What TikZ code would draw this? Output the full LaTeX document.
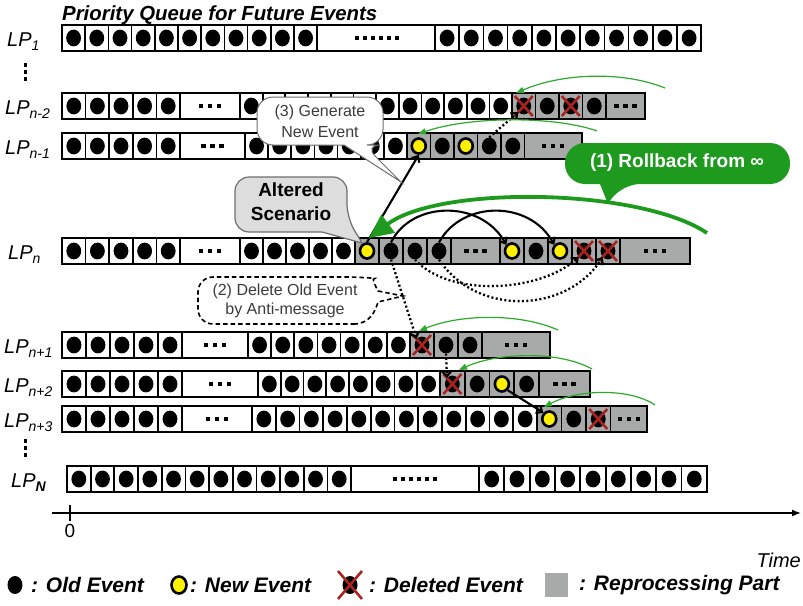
\documentclass[tikz,border=0pt]{standalone}
\usepackage{fontspec}
\setmainfont{Liberation Sans}
\usetikzlibrary{arrows.meta,shapes.geometric}
\definecolor{repgray}{RGB}{168,170,170}
\definecolor{evyellow}{RGB}{255,240,0}
\definecolor{xred}{RGB}{170,35,35}
\definecolor{rbgreen}{RGB}{30,155,30}
\definecolor{thingreen}{RGB}{45,170,45}
\definecolor{altfill}{RGB}{221,221,221}
\definecolor{calledge}{RGB}{110,110,110}
\definecolor{calltext}{RGB}{60,60,60}

\newcommand\evrow[5]{% #1 y, #2 x0, #3 w, #4 n, #5 fill
  \foreach \i in {1,...,#4}{%
    \pgfmathsetmacro\xa{#2+(\i-1)*#3}%
    \draw[cellline,fill=#5] (\xa,#1) rectangle ++(#3,26);
    \fill (\xa+#3/2,#1+13) ellipse [x radius=7.4,y radius=8.4];
  }}
\newcommand\spc[5]{% #1 name, #2 x, #3 y, #4 w, #5 style
  \draw[cellline,fill=repgray] (#2,#3) rectangle ++(#4,26);
  \node[#5] (#1) at (#2+#4/2,#3+13) {};}
\newcommand\xcross[1]{\draw[xline] ([shift={(-9,-10)}]#1.center) -- ([shift={(9,10)}]#1.center) ([shift={(-9,10)}]#1.center) -- ([shift={(9,-10)}]#1.center);}
\newcommand\dotsthree[2]{\foreach \k in {-1,0,1}{\fill (#1+\k*9-2.25,#2-2.25) rectangle ++(4.5,4.5);}}
\newcommand\dotssix[2]{\foreach \k in {0,...,5}{\fill (#1-21.75+\k*8,#2-1.75) rectangle ++(3.5,3.5);}}
\newcommand\gapcell[4]{\draw[cellline,fill=#4] (#1,#3) rectangle (#2,#3+26);}
\newcommand\frameit[3]{\draw[rowframe] (#1,#3) rectangle (#2,#3+26);}
\newcommand\lpsub[1]{\raisebox{-4pt}{\fontsize{14}{14}\selectfont #1}}

\begin{document}
\begin{tikzpicture}[x=1pt,y=-1pt,
  cellline/.style={line width=1.7pt},
  rowframe/.style={line width=2.4pt},
  xline/.style={xred,line width=2.6pt},
  oldev/.style={ellipse,fill=black,minimum width=14.8pt,minimum height=16.8pt,inner sep=0pt},
  newev/.style={ellipse,draw=black,line width=2.6pt,fill=evyellow,minimum width=14pt,minimum height=15pt,inner sep=0pt},
  blkarrow/.style={line width=2.1pt,-{Straight Barb[length=5pt,width=9pt]}},
  dotarrow/.style={line width=2.3pt,dash pattern=on 2pt off 2.4pt,-{Straight Barb[length=5pt,width=9pt]}},
  thinarrow/.style={thingreen,line width=1.2pt,-{Triangle[length=8pt,width=6pt]}},
  rollarrow/.style={rbgreen,line width=3.8pt,-{Triangle[length=24pt,width=22pt]}},
  lplab/.style={font=\fontsize{20}{24}\selectfont\itshape,inner sep=0pt,anchor=base west},
  legtext/.style={font=\fontsize{21}{24}\selectfont\bfseries\itshape,inner sep=0pt,anchor=west},
]
\useasboundingbox (0,0) rectangle (803,605);

% title
\node[font=\fontsize{20.4}{24}\selectfont\bfseries\itshape,anchor=base west,inner sep=0pt] (title) at (62,20) {Priority Queue for Future Events};

% ---------- LP1
\evrow{25}{62}{23.2}{11}{white}
\gapcell{317.2}{435}{25}{white}\dotssix{377}{38}
\evrow{25}{435}{24.2}{11}{white}
\frameit{62}{701.2}{25}

% ---------- LPn-2
\evrow{93}{62}{23.6}{5}{white}
\gapcell{180}{240}{93}{white}\dotsthree{210}{106}
\evrow{93}{240}{22.67}{12}{white}
\spc{mtwoXa}{512}{93}{23.5}{oldev}
\spc{mtwoBa}{535.5}{93}{23.5}{oldev}
\spc{mtwoXb}{559}{93}{23.5}{oldev}
\spc{mtwoBb}{582.5}{93}{23.5}{oldev}
\gapcell{606}{645}{93}{repgray}\dotsthree{625.5}{106}
\frameit{62}{645}{93}
\xcross{mtwoXa}\xcross{mtwoXb}

% ---------- LPn-1
\evrow{133}{62}{23.6}{5}{white}
\gapcell{180}{245}{133}{white}\dotsthree{212.5}{146}
\evrow{133}{245}{23.143}{7}{white}
\spc{moneYa}{407}{133}{23.5}{newev}
\spc{moneBa}{430.5}{133}{23.5}{oldev}
\spc{moneYb}{454}{133}{23.5}{newev}
\spc{moneBb}{477.5}{133}{23.5}{oldev}
\spc{moneBc}{501}{133}{23.5}{oldev}
\gapcell{524.5}{582}{133}{repgray}\dotsthree{553}{146}
\frameit{62}{582}{133}

% ---------- LPn
\evrow{238}{62}{23.6}{5}{white}
\gapcell{180}{240}{238}{white}\dotsthree{210}{251}
\evrow{238}{240}{23}{5}{white}
\spc{nYa}{355}{238}{24}{newev}
\spc{nBa}{379}{238}{24}{oldev}
\spc{nBb}{403}{238}{24}{oldev}
\spc{nBc}{427}{238}{24}{oldev}
\gapcell{451}{500}{238}{repgray}\dotsthree{475.5}{251}
\spc{nYb}{500}{238}{24}{newev}
\spc{nBd}{524}{238}{24}{oldev}
\spc{nYc}{548}{238}{24}{newev}
\spc{nXa}{572}{238}{24}{oldev}
\spc{nXb}{596}{238}{24}{oldev}
\gapcell{620}{690}{238}{repgray}\dotsthree{655}{251}
\frameit{62}{690}{238}
\xcross{nXa}\xcross{nXb}

% ---------- LPn+1
\evrow{332}{62}{24}{5}{white}
\gapcell{182}{248}{332}{white}\dotsthree{215}{345}
\evrow{332}{248}{23.143}{7}{white}
\spc{poneXa}{410}{332}{24}{oldev}
\spc{poneBa}{434}{332}{24}{oldev}
\spc{poneBb}{458}{332}{24}{oldev}
\gapcell{482}{550}{332}{repgray}\dotsthree{516}{345}
\frameit{62}{550}{332}
\xcross{poneXa}

% ---------- LPn+2
\evrow{371}{62}{24}{5}{white}
\gapcell{182}{258}{371}{white}\dotsthree{220}{384}
\evrow{371}{258}{22.75}{8}{white}
\spc{ptwoXa}{440}{371}{24.75}{oldev}
\spc{ptwoBa}{464.75}{371}{24.75}{oldev}
\spc{ptwoYa}{489.5}{371}{24.75}{newev}
\spc{ptwoBb}{514.25}{371}{24.75}{oldev}
\gapcell{539}{590}{371}{repgray}\dotsthree{564.5}{384}
\frameit{62}{590}{371}
\xcross{ptwoXa}

% ---------- LPn+3
\evrow{406}{62}{24}{5}{white}
\gapcell{182}{252}{406}{white}\dotsthree{217}{419}
\evrow{406}{252}{23.75}{12}{white}
\spc{pthrYa}{537}{406}{24.5}{newev}
\spc{pthrBa}{561.5}{406}{24.5}{oldev}
\spc{pthrXa}{586}{406}{24.5}{oldev}
\gapcell{610.5}{647}{406}{repgray}\dotsthree{628.75}{419}
\frameit{62}{647}{406}
\xcross{pthrXa}

% ---------- LPN
\evrow{466}{67}{23.67}{12}{white}
\gapcell{351}{479}{466}{white}\dotssix{415}{479}
\evrow{466}{479}{25.33}{9}{white}
\frameit{67}{707}{466}

% labels
\node[lplab] (lone) at (7,46) {LP\lpsub{1}};
\node[lplab] (lmtwo) at (5,114) {LP\lpsub{n-2}};
\node[lplab] (lmone) at (5,154) {LP\lpsub{n-1}};
\node[lplab] (ln) at (8,259) {LP\lpsub{n}};
\node[lplab] (lpone) at (4,353) {LP\lpsub{n+1}};
\node[lplab] (lptwo) at (4,392) {LP\lpsub{n+2}};
\node[lplab] (lpthr) at (4,427) {LP\lpsub{n+3}};
\node[lplab] (lN) at (11,487) {LP\lpsub{\bfseries N}};
\foreach \k in {0,1,2}{\fill (23.5,63+\k*7) rectangle ++(3,4);}
\foreach \k in {0,1,2}{\fill (23.5,439+\k*7) rectangle ++(3,4);}

% black connectors
\draw[blkarrow] (nYa.north) -- (moneYa.south);
\draw[dotarrow] (moneBb.north) -- (mtwoXa.south west);
\draw[blkarrow] (nBa.north) .. controls (412,200) and (482,200) .. (nYb.north west);
\draw[blkarrow] (nBc.north) .. controls (462,200) and (530,200) .. (nYc.north west);
\draw[dotarrow] (nBb.south) .. controls (450,298) and (540,292) .. (nXa.south west);
\draw[dotarrow] (nBc.south) .. controls (478,318) and (568,312) .. (nXb.south west);
\draw[dotarrow] (nBa.south) -- (poneXa.north west);
\draw[dotarrow] (poneBa.south) -- (ptwoXa.north west);
\draw[blkarrow] (ptwoYa.south east) -- (pthrYa.north west);

% thin green rollback arrows
\coordinate (gsA) at (665,88);  \coordinate (gtA) at (516,93);
\coordinate (gsB) at (597,131); \coordinate (gtB) at (418,134);
\coordinate (gsC) at (558,330); \coordinate (gtC) at (419,331);
\coordinate (gsD) at (592,369); \coordinate (gtD) at (459,370);
\coordinate (gsE) at (655,405); \coordinate (gtE) at (544,407);
\draw[thinarrow] (gsA) .. controls (620,70) and (560,74) .. (gtA);
\draw[thinarrow] (gsB) .. controls (555,116) and (470,116) .. (gtB);
\draw[thinarrow] (gsC) .. controls (520,313) and (460,314) .. (gtC);
\draw[thinarrow] (gsD) .. controls (560,351) and (498,352) .. (gtD);
\draw[thinarrow] (gsE) .. controls (630,388) and (578,389) .. (gtE);

% callout (3)
\draw[calledge,line width=1pt,fill=white] (344,145) [rounded corners=16] -- (257,145) -- (257,97) -- (383,97) -- (383,145) -- (364,145) [sharp corners] -- (401,182) -- cycle;
\node[align=center,font=\fontsize{16}{21}\selectfont,text=calltext] (gentxt) at (320,121) {(3) Generate\\New Event};

% callout Altered Scenario
\draw[calledge,line width=1.2pt,fill=altfill] (322,232) [rounded corners=14] -- (235,232) -- (235,177) -- (347,177) -- (347,218) [sharp corners] -- (362,243) -- cycle;
\node[align=center,font=\fontsize{19}{24}\selectfont\bfseries] (alttxt) at (291,202) {Altered\\Scenario};

% callout (2)
\draw[line width=1.6pt,dash pattern=on 4.5pt off 3pt,fill=white] (355,324) [rounded corners=15] -- (198,324) -- (198,277) -- (360,277) [sharp corners] .. controls (371,278) and (375,285) .. (378,291) -- (403,296) -- (378,302) .. controls (375,312) and (370,323) .. (355,324) -- cycle;
\node[align=center,font=\fontsize{16}{19}\selectfont,text=calltext] (deltxt) at (285,301) {(2) Delete Old Event\\by Anti-message};

% thick green rollback
\coordinate (rbs) at (707,233); \coordinate (rbt) at (369,238);
\draw[rollarrow] (rbs) .. controls (640,188) and (440,185) .. (rbt);

% callout (1)
\fill[rbgreen] (600,184) [rounded corners=20] -- (565,184) -- (565,143) -- (790,143) -- (790,184) -- (620,184) [sharp corners] -- (608,204) -- cycle;
\node[font=\fontsize{19}{22}\selectfont\bfseries,text=white] (rbtxt) at (677,163) {(1) Rollback from ∞};

% time axis
\coordinate (axs) at (52,513); \coordinate (axe) at (801,513);
\draw[line width=1.4pt,-{Latex[length=9pt,width=7pt]}] (axs) -- (axe);
\coordinate (tka) at (70,505); \coordinate (tkb) at (70,521);
\draw[line width=1.3pt] (tka) -- (tkb);
\node[font=\fontsize{19}{22}\selectfont] (zero) at (70,531) {0};
\node[font=\fontsize{20}{24}\selectfont\itshape,anchor=east,inner sep=0pt] (timel) at (801,560) {Time};

% legend
\node[oldev,minimum width=15pt,minimum height=18pt] (legold) at (15,585) {};
\node[legtext] (legoldt) at (31,585) {: Old Event};
\node[newev,minimum width=15pt,minimum height=17pt] (legnew) at (179,585) {};
\node[legtext] (legnewt) at (190,585) {: New Event};
\node[oldev,minimum width=15pt,minimum height=18pt] (legdel) at (350,585) {};
\draw[xline] ([shift={(-12,-14)}]legdel.center) -- ([shift={(12,14)}]legdel.center) ([shift={(-12,14)}]legdel.center) -- ([shift={(12,-14)}]legdel.center);
\node[legtext] (legdelt) at (369,585) {: Deleted Event};
\node[fill=repgray,minimum width=23pt,minimum height=24pt,inner sep=0pt] (legrep) at (556.5,585) {};
\node[legtext] (legrept) at (579,585) {: Reprocessing Part};
\end{tikzpicture}
\end{document}
